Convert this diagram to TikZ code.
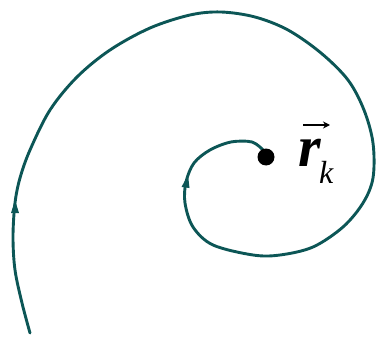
\documentclass[tikz,border=0pt]{standalone}
\usepackage{fontspec}
\setmainfont{Liberation Serif}
\usetikzlibrary{arrows.meta}
\definecolor{spiral}{HTML}{0C5656}
\tikzset{curve/.style={draw=spiral,line width=2.9pt,line cap=round},
  tip/.style={fill=spiral}}
\begin{document}
\begin{tikzpicture}[x=1pt,y=-1pt]
\useasboundingbox (0,0) rectangle (378,353);
\draw[curve] plot[smooth,tension=0.55] coordinates{
 (30,333) (22,303) (15,270) (13,237) (15,203) (20,178) (30,150) (50,110)
 (77,77) (110,50) (150,28) (190,15) (221,12) (255,17) (288,30) (321,53)
 (348,80) (364,110) (373,143) (373,178) (363,203) (343,227) (313,247)
 (280,255) (253,255) (213,245) (193,227) (185,203) (186,182) (194,163)
 (210,150) (231,142) (252,142) (263,150)};
\fill[tip] (11,213) -- (19,213) -- (15,200) -- cycle;
\fill[tip] (181.5,187) -- (189.5,188) -- (188,175) -- cycle;
\node[circle,fill=black,inner sep=0pt,minimum size=17pt] (dot) at (266,157) {};
\node[anchor=base west,inner sep=0pt] (r) at (298,167)
 {\fontsize{58}{58}\selectfont\textbf{\textit{r}}};
\node[anchor=base west,inner sep=0pt] (k) at (319,183)
 {\fontsize{32}{32}\selectfont\textit{k}};
\draw[line width=1.5pt,-{Stealth[length=7pt,width=7pt]}] ([shift={(5,-42)}]r.base west) -- ([shift={(32,-42)}]r.base west);
\end{tikzpicture}
\end{document}
